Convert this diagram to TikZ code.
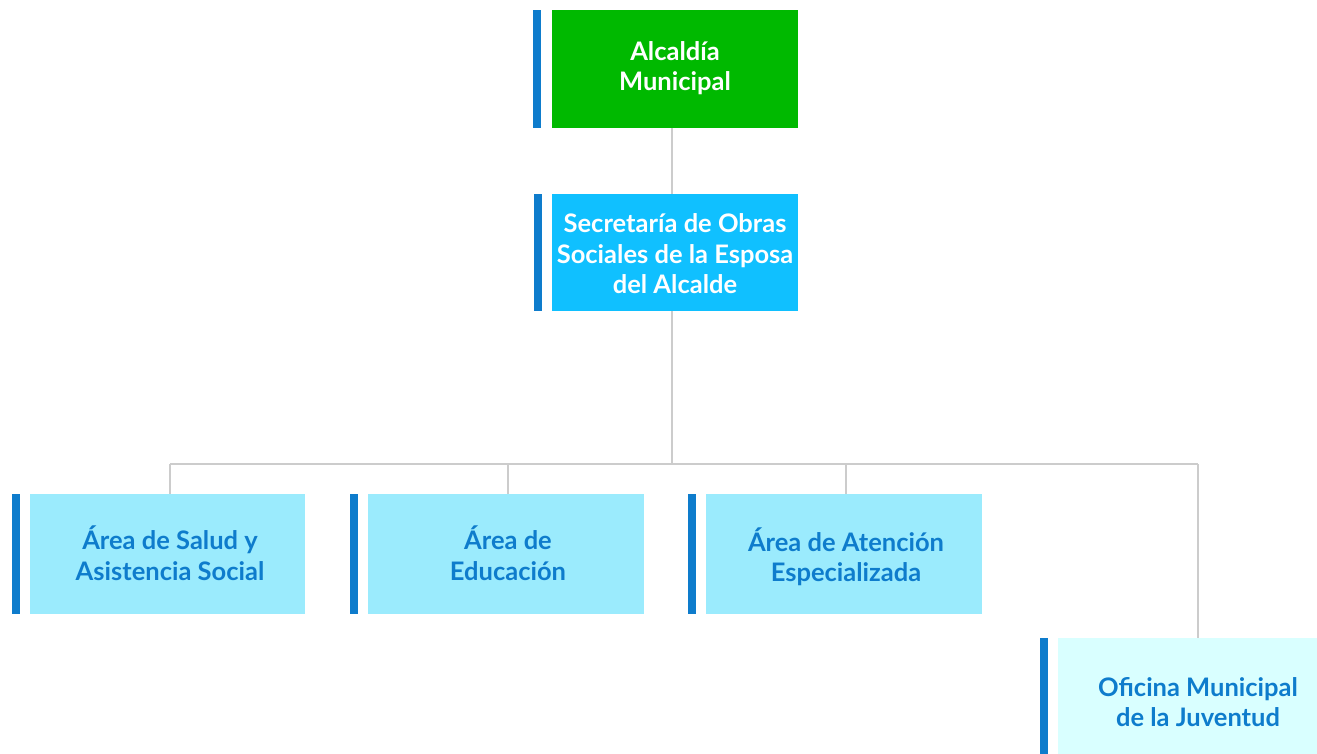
\documentclass[tikz,border=0pt]{standalone}
\usepackage{fontspec}
\setmainfont{Lato}
\definecolor{cgreen}{HTML}{00B900}
\definecolor{ccyan}{HTML}{10C0FF}
\definecolor{clight}{HTML}{9BEBFD}
\definecolor{cpale}{HTML}{D9FFFF}
\definecolor{cbar}{HTML}{0E7CCC}
\definecolor{cline}{HTML}{CCCCCC}
\tikzset{
  box/.style={inner sep=0pt, outer sep=0pt, align=center, font=\fontsize{25.5}{30.5}\selectfont\bfseries},
  barstyle/.style={fill=cbar, draw=none},
  conn/.style={draw=cline, line width=2.2pt}
}
\begin{document}
\begin{tikzpicture}[x=1pt,y=-1pt]
\useasboundingbox (0,0) rectangle (1317,754);
% top
\fill[barstyle] (533,10) rectangle (541,128);
\node[box, fill=cgreen, text=white, minimum width=246pt, minimum height=118pt] (a) at (675,69) {};
\node[box, text=white] (at) at (675,68) {Alcaldía\\Municipal};
% second
\fill[barstyle] (534,194) rectangle (542,311);
\node[box, fill=ccyan, text=white, minimum width=246pt, minimum height=117pt] (s) at (675,252.5) {};
\node[box, text=white] (st) at (675,254) {Secretaría de Obras\\Sociales de la Esposa\\del Alcalde};
% row 3
\fill[barstyle] (12,494) rectangle (20,614);
\node[box, fill=clight, text=cbar, minimum width=275pt, minimum height=120pt] (b1) at (167.5,554) {};
\node[box, text=cbar] (b1t) at (170,553) {Área de Salud y\\Asistencia Social};
\fill[barstyle] (350,494) rectangle (358,614);
\node[box, fill=clight, text=cbar, minimum width=276pt, minimum height=120pt] (b2) at (506,554) {};
\node[box, text=cbar] (b2t) at (508,553) {Área de\\Educación};
\fill[barstyle] (688,494) rectangle (696,614);
\node[box, fill=clight, text=cbar, minimum width=276pt, minimum height=120pt] (b3) at (844,554) {};
\node[box, text=cbar] (b3t) at (846,557) {Área de Atención\\Especializada};
% row 4
\fill[barstyle] (1040,638) rectangle (1048,754);
\node[box, fill=cpale, text=cbar, minimum width=280pt, minimum height=118pt] (b4) at (1198,697) {};
\node[box, text=cbar] (b4t) at (1198,702) {Oficina Municipal\\de la Juventud};
% connectors
\coordinate (j) at (672,464);
\draw[conn] (a.south -| j) -- (s.north -| j);
\draw[conn] (s.south -| j) -- (j);
\draw[conn] (170,464) -- (1198,464);
\draw[conn] (170,464) -- (170,494);
\draw[conn] (508,464) -- (508,494);
\draw[conn] (846,464) -- (846,494);
\draw[conn] (1198,464) -- (b4.north);
\end{tikzpicture}
\end{document}
